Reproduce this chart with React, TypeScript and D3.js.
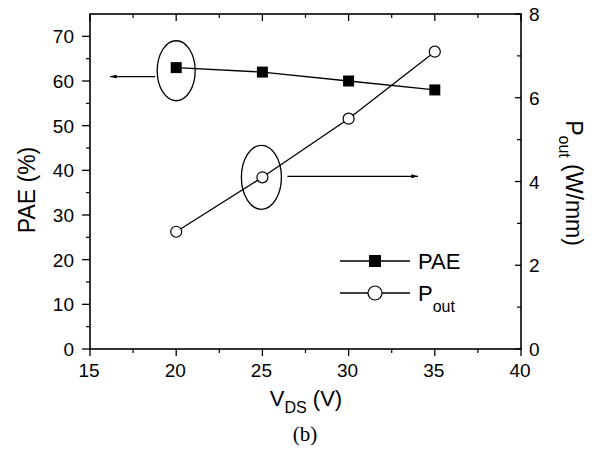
import React from "react";
import * as d3 from "d3";

const vds = [20, 25, 30, 35];
const pae = [63, 62, 60, 58];
const pout = [2.8, 4.1, 5.5, 7.1];
const xTicks = [15, 20, 25, 30, 35, 40];
const yLeftTicks = [0, 10, 20, 30, 40, 50, 60, 70];
const yRightTicks = [0, 2, 4, 6, 8];

const W = 597, H = 453;
const M = { left: 90, right: 521, top: 14, bottom: 349 };
const FONT = "'Liberation Sans', Arial, sans-serif";

export default function App() {
  const x = d3.scaleLinear().domain([15, 40]).range([M.left, M.right]);
  const yL = d3.scaleLinear().domain([0, 75]).range([M.bottom, M.top]);
  const yR = d3.scaleLinear().domain([0, 8]).range([M.bottom, M.top]);
  const line = d3.line<[number, number]>().x(d => d[0]).y(d => d[1]);
  const paePts: [number, number][] = vds.map((v, i) => [x(v), yL(pae[i])]);
  const poutPts: [number, number][] = vds.map((v, i) => [x(v), yR(pout[i])]);
  const xMinor = d3.range(17.5, 40, 5);
  const yLMinor = d3.range(5, 75, 10);
  const yRMinor = d3.range(1, 8, 2);
  const sw = 1.3;
  return (
    <svg width={W} height={H} style={{ position: "absolute", left: 0, top: 0, background: "#fff" }} fontFamily={FONT}>
      <defs>
        <marker id="ah" viewBox="0 0 10 6" refX="10" refY="3" markerWidth="8" markerHeight="4" orient="auto-start-reverse" markerUnits="userSpaceOnUse">
          <path d="M0,0 L10,3 L0,6 Z" fill="#000" />
        </marker>
      </defs>
      <rect x={M.left} y={M.top} width={M.right - M.left} height={M.bottom - M.top} fill="none" stroke="#000" strokeWidth={1.6} />
      {xTicks.map(t => (
        <g key={"x" + t}>
          <line x1={x(t)} x2={x(t)} y1={M.bottom} y2={M.bottom + 7} stroke="#000" strokeWidth={1.3} />
          <line x1={x(t)} x2={x(t)} y1={M.top} y2={M.top + 7} stroke="#000" strokeWidth={1.3} />
          <text x={x(t) - 1} y={M.bottom + 28} textAnchor="middle" fontSize={19}>{t}</text>
        </g>
      ))}
      {xMinor.map(t => (
        <g key={"xm" + t}>
          <line x1={x(t)} x2={x(t)} y1={M.bottom} y2={M.bottom + 4} stroke="#000" strokeWidth={1.2} />
          <line x1={x(t)} x2={x(t)} y1={M.top} y2={M.top + 4} stroke="#000" strokeWidth={1.2} />
        </g>
      ))}
      {yLeftTicks.map(t => (
        <g key={"yl" + t}>
          <line x1={M.left - 8} x2={M.left} y1={yL(t)} y2={yL(t)} stroke="#000" strokeWidth={1.3} />
          <text x={M.left - 16} y={yL(t) + 7} textAnchor="end" fontSize={19}>{t}</text>
        </g>
      ))}
      {yLMinor.map(t => (
        <line key={"ylm" + t} x1={M.left - 4} x2={M.left} y1={yL(t)} y2={yL(t)} stroke="#000" strokeWidth={1.2} />
      ))}
      {yRightTicks.map(t => (
        <g key={"yr" + t}>
          <line x1={M.right - 6} x2={M.right} y1={yR(t)} y2={yR(t)} stroke="#000" strokeWidth={1.3} />
          <text x={M.right + 8} y={yR(t) + 7} textAnchor="start" fontSize={19}>{t}</text>
        </g>
      ))}
      {yRMinor.map(t => (
        <line key={"yrm" + t} x1={M.right - 4} x2={M.right} y1={yR(t)} y2={yR(t)} stroke="#000" strokeWidth={1.2} />
      ))}
      <text transform={`translate(35,190) rotate(-90)`} textAnchor="middle" fontSize={23}>PAE (%)</text>
      <text transform={`translate(566,183) rotate(90)`} textAnchor="middle" fontSize={23}>
        P<tspan fontSize={16} dy={7}>out</tspan><tspan dy={-7}> (W/mm)</tspan>
      </text>
      <text x={306} y={406} textAnchor="middle" fontSize={22}>
        V<tspan fontSize={16} dy={7}>DS</tspan><tspan dy={-7}> (V)</tspan>
      </text>
      <text x={305} y={441} textAnchor="middle" fontSize={21} fontFamily="'Liberation Serif', 'Times New Roman', serif">(b)</text>
      <path d={line(paePts) || ""} fill="none" stroke="#000" strokeWidth={sw} />
      <path d={line(poutPts) || ""} fill="none" stroke="#000" strokeWidth={sw} />
      {paePts.map((p, i) => (
        <rect key={"pm" + i} x={p[0] - 5.5} y={p[1] - 5.5} width={11} height={11} fill="#000" />
      ))}
      {poutPts.map((p, i) => (
        <circle key={"om" + i} cx={p[0]} cy={p[1]} r={5.5} fill="#fff" stroke="#000" strokeWidth={1.2} />
      ))}
      <ellipse cx={x(20)} cy={yL(62.3)} rx={19} ry={30} fill="none" stroke="#000" strokeWidth={1.3} />
      <line x1={x(20) - 21} x2={110} y1={yL(61)} y2={yL(61)} stroke="#000" strokeWidth={1.2} markerEnd="url(#ah)" />
      <ellipse cx={x(25) - 1} cy={yR(4.1)} rx={20} ry={32} fill="none" stroke="#000" strokeWidth={1.3} />
      <line x1={x(25) + 25} x2={418} y1={yR(4.1) - 1} y2={yR(4.1) - 1} stroke="#000" strokeWidth={1.2} markerEnd="url(#ah)" />
      <line x1={340} x2={410} y1={261} y2={261} stroke="#000" strokeWidth={sw} />
      <rect x={369} y={255} width={12} height={12} fill="#000" />
      <text x={418} y={269} fontSize={22}>PAE</text>
      <line x1={340} x2={410} y1={293} y2={293} stroke="#000" strokeWidth={sw} />
      <circle cx={375} cy={293} r={7} fill="#fff" stroke="#000" strokeWidth={1.2} />
      <text x={418} y={301} fontSize={22}>P<tspan fontSize={16} dy={11}>out</tspan></text>
    </svg>
  );
}
